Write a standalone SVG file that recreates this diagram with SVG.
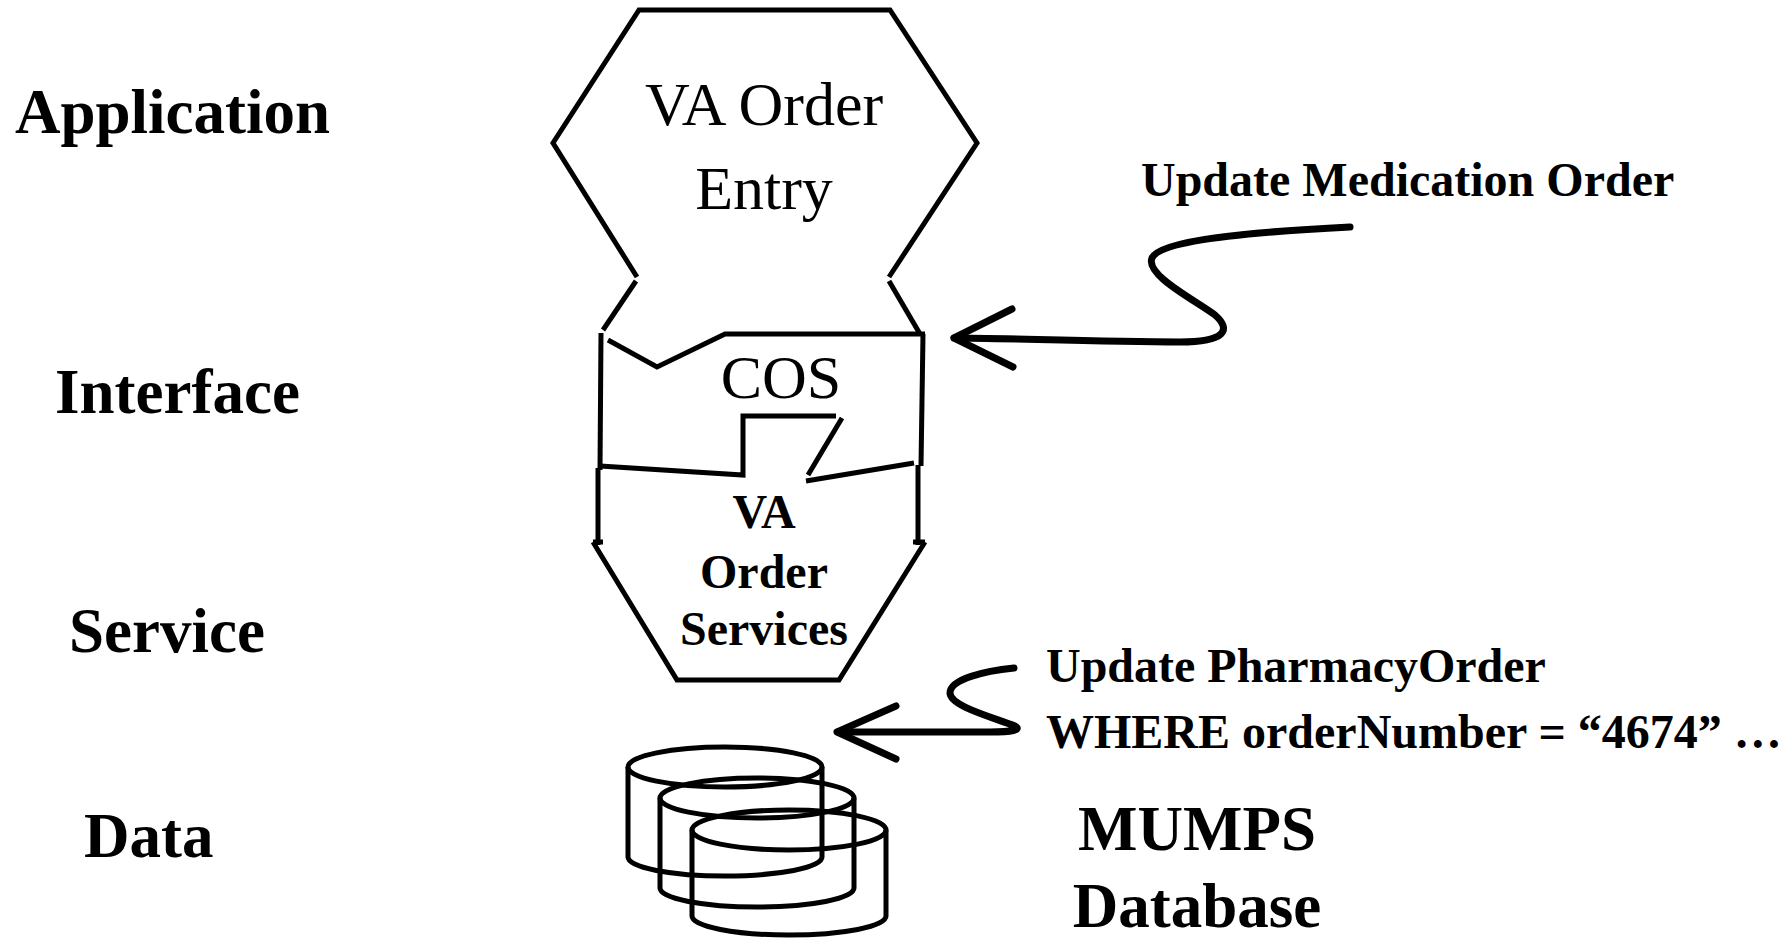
<svg xmlns="http://www.w3.org/2000/svg" width="1784" height="940" viewBox="0 0 1784 940">
<style>
.ln{fill:none;stroke:#000;stroke-width:5;stroke-linejoin:miter}
.ar{fill:none;stroke:#000;stroke-width:7;stroke-linecap:round;stroke-linejoin:round}
.lbl{font-family:"Liberation Serif","Times New Roman",serif;font-weight:bold;font-size:63px;fill:#000}
.reg{font-family:"Liberation Serif","Times New Roman",serif;font-size:62px;fill:#000;text-anchor:middle}
.bd{font-family:"Liberation Serif","Times New Roman",serif;font-weight:bold;font-size:48px;fill:#000}
</style>
<rect width="1784" height="940" fill="#fff"/>
<g id="layer-labels">
<text class="lbl" x="15" y="133">Application</text>
<text class="lbl" x="55" y="413">Interface</text>
<text class="lbl" x="69" y="652">Service</text>
<text class="lbl" x="84" y="857">Data</text>
</g>
<g id="va-order-entry">
<path class="ln" d="M637,277 L553,143 L639,10 L890,10 L977,143 L889,277"/>
<path class="ln" d="M636,281 L603,330"/>
<path class="ln" d="M889,281 L920,334"/>
<text class="reg" x="764" y="125">VA Order</text>
<text class="reg" x="764" y="209">Entry</text>
</g>
<g id="cos">
<path class="ln" d="M608,340 L657,367 L725,334 L925,334"/>
<path class="ln" d="M923,334 L921,466"/>
<path class="ln" d="M601,333 L600,470"/>
<path class="ln" d="M600,466 L743,475 L743,416 L836,416"/>
<path class="ln" d="M842,418 L808,475"/>
<path class="ln" d="M806,481 L914,463"/>
<text class="reg" x="781" y="398">COS</text>
</g>
<g id="va-order-services">
<path class="ln" d="M598,468 L598,545"/>
<path class="ln" d="M918,465 L918,545"/>
<path class="ln" d="M593,542 L603,542"/>
<path class="ln" d="M913,542 L925,542"/>
<path class="ln" d="M593,542 L677,680 L839,680 L925,542"/>
<text class="bd" x="764" y="528" text-anchor="middle">VA</text>
<text class="bd" x="764" y="588" text-anchor="middle">Order</text>
<text class="bd" x="764" y="645" text-anchor="middle">Services</text>
</g>
<g id="mumps-database">
<ellipse class="ln" cx="725" cy="767" rx="97" ry="20"/>
<path class="ln" d="M628,767 L628,857 A97,19 0 0 0 822,857 L822,767"/>
<ellipse class="ln" cx="757" cy="798" rx="97" ry="20"/>
<path class="ln" d="M660,798 L660,888 A97,19 0 0 0 854,888 L854,798"/>
<ellipse class="ln" cx="789" cy="830" rx="97" ry="20"/>
<path class="ln" d="M692,830 L692,916 A97,19 0 0 0 886,916 L886,830"/>
<text class="lbl" x="1197" y="850" text-anchor="middle">MUMPS</text>
<text class="lbl" x="1197" y="927" text-anchor="middle">Database</text>
</g>
<g id="connectors">
<path class="ar" d="M1350,227 C1250,232 1160,240 1152,258 C1145,275 1195,300 1215,315 C1232,330 1225,342 1180,342 C1100,342 1000,338 954,338"/>
<path class="ar" d="M1012,309 L954,338 L1013,367"/>
<path class="ar" d="M1014,668 C985,671 950,679 950,693 C950,706 992,717 1015,726 C1022,730 1012,732 990,732 L838,732"/>
<path class="ar" d="M896,706 L837,732 L896,759"/>
</g>
<g id="connector-labels">
<text class="bd" x="1141" y="196">Update Medication Order</text>
<text class="bd" x="1046" y="682">Update PharmacyOrder</text>
<text class="bd" x="1046" y="748">WHERE orderNumber = “4674” …</text>
</g>
</svg>
